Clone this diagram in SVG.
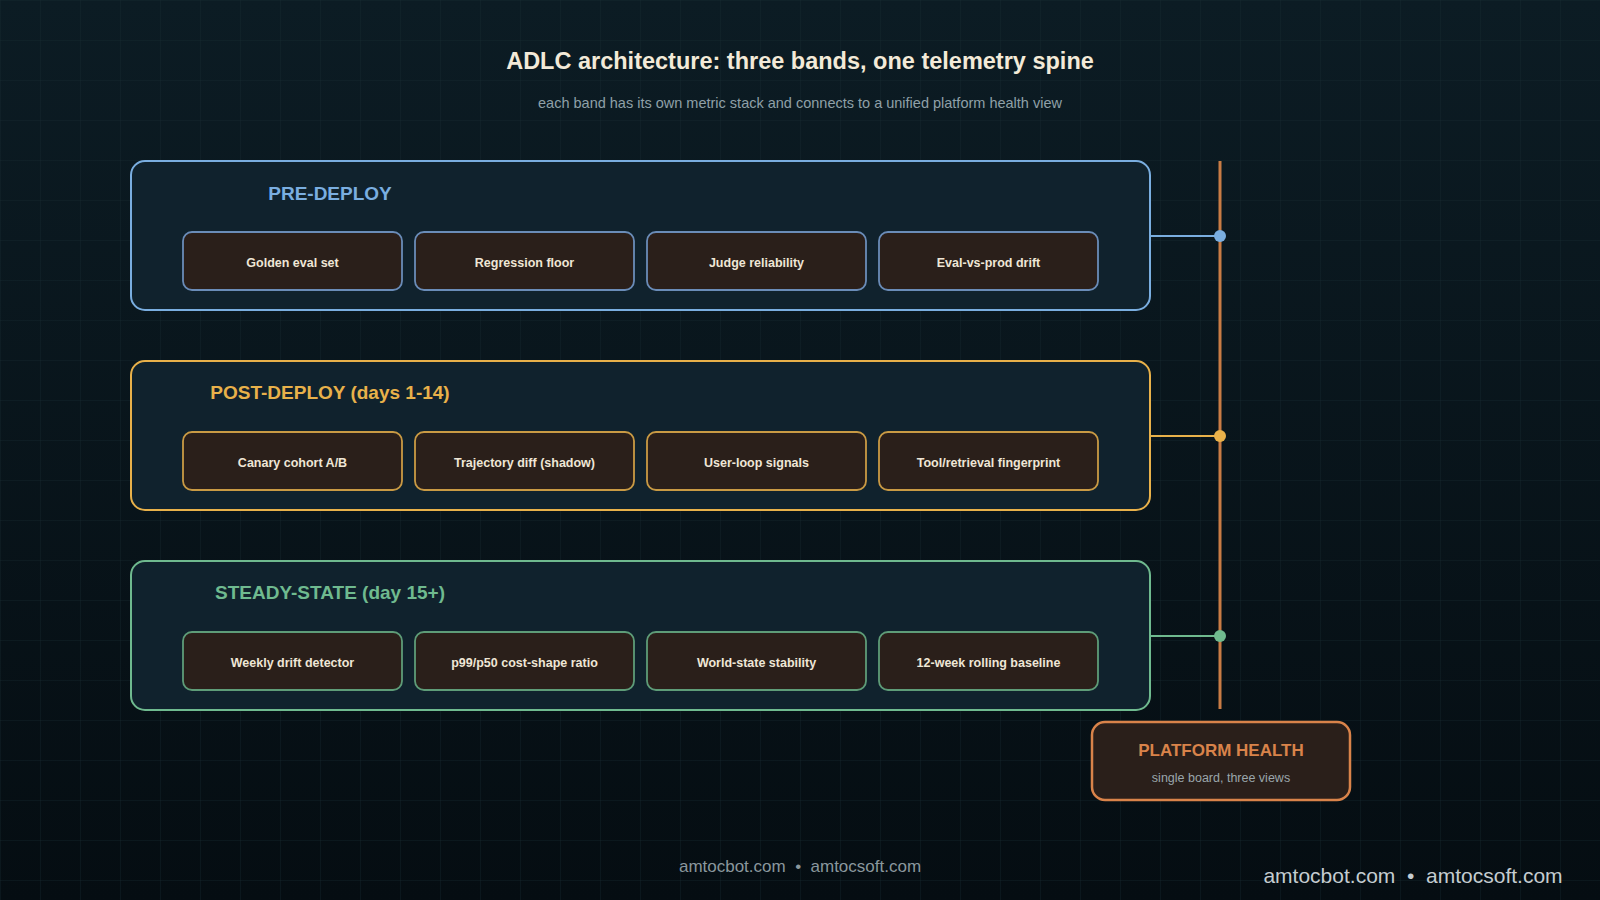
<svg xmlns="http://www.w3.org/2000/svg" width="1600" height="900" viewBox="0 0 1600 900">
<defs>
<linearGradient id="bg" x1="0" y1="0" x2="0" y2="1"><stop offset="0" stop-color="#0c1c24"/><stop offset="1" stop-color="#050d12"/></linearGradient>
<pattern id="grid" width="40" height="40" patternUnits="userSpaceOnUse"><path d="M40 0H0V40" fill="none" stroke="#1a2e36" stroke-width="1" opacity="0.6"/></pattern>
<style>
text{font-family:"Liberation Sans",Arial,sans-serif}
.band{fill:#10222d;stroke-width:2}
.card{fill:#2a1f1a;stroke-width:1.8}
.ct{fill:#efe6d6;font-size:12.5px;font-weight:bold;text-anchor:middle}
.bl{font-size:19px;font-weight:bold;text-anchor:middle}
.blue{stroke:#7aaee0}.amber{stroke:#e8b14a}.green{stroke:#6fba8f}
.cblue{stroke:#6a8cb8}.camber{stroke:#c99a44}.cgreen{stroke:#5e9c78}
</style>
</defs>
<rect width="1600" height="900" fill="url(#bg)"/>
<rect width="1600" height="900" fill="url(#grid)"/>
<text x="800" y="69" text-anchor="middle" font-size="23.5" font-weight="bold" fill="#f3ead8">ADLC architecture: three bands, one telemetry spine</text>
<text x="800" y="108" text-anchor="middle" font-size="14.5" fill="#8fa0a8">each band has its own metric stack and connects to a unified platform health view</text>

<g id="connectors">
<line x1="1220" y1="161" x2="1220" y2="709" stroke="#c97c45" stroke-width="3"/>
<line x1="1150" y1="236" x2="1220" y2="236" stroke="#7aaee0" stroke-width="2"/>
<line x1="1150" y1="436" x2="1220" y2="436" stroke="#e8b14a" stroke-width="2"/>
<line x1="1150" y1="636" x2="1220" y2="636" stroke="#6fba8f" stroke-width="2"/>
<circle cx="1220" cy="236" r="6" fill="#7aaee0"/>
<circle cx="1220" cy="436" r="6" fill="#e8b14a"/>
<circle cx="1220" cy="636" r="6" fill="#6fba8f"/>
</g>

<g id="pre-deploy">
<rect class="band blue" x="131" y="161" width="1019" height="149" rx="14"/>
<text class="bl" x="330" y="200" fill="#7aaee0">PRE-DEPLOY</text>
<rect class="card cblue" x="183" y="232" width="219" height="58" rx="9"/><text class="ct" x="292.5" y="267">Golden eval set</text>
<rect class="card cblue" x="415" y="232" width="219" height="58" rx="9"/><text class="ct" x="524.5" y="267">Regression floor</text>
<rect class="card cblue" x="647" y="232" width="219" height="58" rx="9"/><text class="ct" x="756.5" y="267">Judge reliability</text>
<rect class="card cblue" x="879" y="232" width="219" height="58" rx="9"/><text class="ct" x="988.5" y="267">Eval-vs-prod drift</text>
</g>

<g id="post-deploy">
<rect class="band amber" x="131" y="361" width="1019" height="149" rx="14"/>
<text class="bl" x="330" y="399" fill="#e8b14a">POST-DEPLOY (days 1-14)</text>
<rect class="card camber" x="183" y="432" width="219" height="58" rx="9"/><text class="ct" x="292.5" y="467">Canary cohort A/B</text>
<rect class="card camber" x="415" y="432" width="219" height="58" rx="9"/><text class="ct" x="524.5" y="467">Trajectory diff (shadow)</text>
<rect class="card camber" x="647" y="432" width="219" height="58" rx="9"/><text class="ct" x="756.5" y="467">User-loop signals</text>
<rect class="card camber" x="879" y="432" width="219" height="58" rx="9"/><text class="ct" x="988.5" y="467">Tool/retrieval fingerprint</text>
</g>

<g id="steady-state">
<rect class="band green" x="131" y="561" width="1019" height="149" rx="14"/>
<text class="bl" x="330" y="599" fill="#6fba8f">STEADY-STATE (day 15+)</text>
<rect class="card cgreen" x="183" y="632" width="219" height="58" rx="9"/><text class="ct" x="292.5" y="667">Weekly drift detector</text>
<rect class="card cgreen" x="415" y="632" width="219" height="58" rx="9"/><text class="ct" x="524.5" y="667">p99/p50 cost-shape ratio</text>
<rect class="card cgreen" x="647" y="632" width="219" height="58" rx="9"/><text class="ct" x="756.5" y="667">World-state stability</text>
<rect class="card cgreen" x="879" y="632" width="219" height="58" rx="9"/><text class="ct" x="988.5" y="667">12-week rolling baseline</text>
</g>

<g id="platform-health">
<rect x="1092" y="722" width="258" height="78" rx="13" fill="#2a1f1a" stroke="#d9834a" stroke-width="2.5"/>
<text x="1221" y="756" text-anchor="middle" font-size="17" font-weight="bold" fill="#d9834a">PLATFORM HEALTH</text>
<text x="1221" y="782" text-anchor="middle" font-size="12.5" fill="#9aa6ab">single board, three views</text>
</g>

<text x="800" y="872" text-anchor="middle" font-size="17" fill="#8a979d" style="white-space:pre">amtocbot.com  •  amtocsoft.com</text>
<text x="1413" y="883" text-anchor="middle" font-size="21" fill="#c4ccd0" style="white-space:pre">amtocbot.com  •  amtocsoft.com</text>
</svg>
